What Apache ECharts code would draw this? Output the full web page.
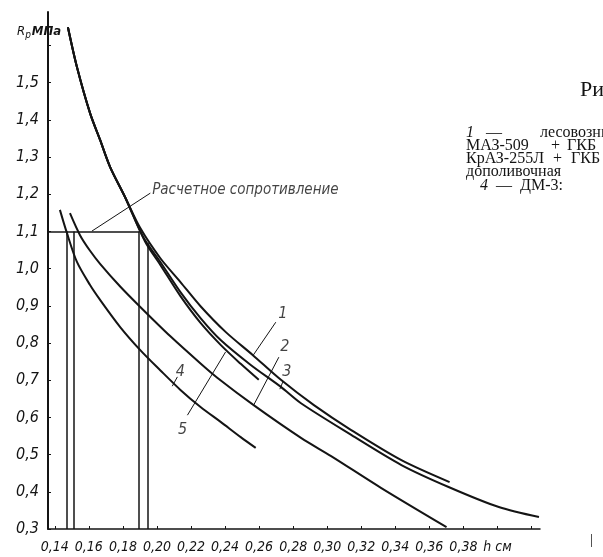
<!DOCTYPE html>
<html>
<head>
<meta charset="utf-8">
<script src="https://cdn.jsdelivr.net/npm/echarts@6/dist/echarts.min.js"></script>
<style>
html, body { margin: 0; padding: 0; background: #fff; }
#chart { width: 603px; height: 557px; }
</style>
</head>
<body>
<div id="chart"></div>
<script>
// деления осей
var xTicks = [0.14, 0.16, 0.18, 0.20, 0.22, 0.24, 0.26, 0.28, 0.30, 0.32, 0.34, 0.36, 0.38, 0.40];
var yTicks = [0.3, 0.4, 0.5, 0.6, 0.7, 0.8, 0.9, 1.0, 1.1, 1.2, 1.3, 1.4, 1.5];
var yMinor = [1.6];

// общий верх кривых 1, 3, 5
var topPart = [[0.1477, 1.649], [0.1530, 1.542], [0.1607, 1.418], [0.1666, 1.346], [0.1725, 1.273], [0.1813, 1.192]];

var curve1 = [[0.1902, 1.109], [0.2020, 1.028], [0.2138, 0.964], [0.2256, 0.899], [0.2403, 0.830], [0.2562, 0.768],
    [0.2728, 0.701], [0.2922, 0.633], [0.3141, 0.566], [0.3436, 0.485], [0.3719, 0.426]];
var curve2 = [[0.1489, 1.149], [0.1548, 1.090], [0.1607, 1.048], [0.1666, 1.013], [0.1784, 0.952], [0.1902, 0.897],
    [0.2079, 0.818], [0.2256, 0.745], [0.2356, 0.706], [0.2568, 0.633], [0.2846, 0.545], [0.3023, 0.496],
    [0.3318, 0.410], [0.3701, 0.305]];
var curve3 = [[0.1919, 1.085], [0.2020, 1.018], [0.2138, 0.937], [0.2256, 0.867], [0.2374, 0.808], [0.2551, 0.741],
    [0.2728, 0.682], [0.2846, 0.638], [0.3141, 0.553], [0.3436, 0.472], [0.3713, 0.413], [0.4008, 0.359], [0.4244, 0.332]];
var curve4 = [[0.1430, 1.158], [0.1471, 1.096], [0.1530, 1.018], [0.1607, 0.956], [0.1666, 0.916], [0.1784, 0.843],
    [0.1902, 0.781], [0.2019, 0.727], [0.2138, 0.674], [0.2256, 0.628], [0.2374, 0.588], [0.2492, 0.547], [0.2580, 0.518]];
var curve5 = [[0.1931, 1.072], [0.2020, 1.010], [0.2138, 0.926], [0.2256, 0.854], [0.2374, 0.795], [0.2492, 0.744], [0.2598, 0.701]];

// расчетное сопротивление и проекции
var designR = 1.1;
var guideX = [0.1471, 0.1512, 0.1896, 0.1943];
var guideTop = [1.1, 1.1, 1.1, 1.069];

// номера кривых и выноски
var curveNames = ['1', '2', '3', '4', '5'];
var namePos = [[0.2740, 0.878], [0.2751, 0.789], [0.2763, 0.722], [0.2138, 0.722], [0.2150, 0.566]];
var leaders = [
    [[0.2698, 0.856], [0.2562, 0.765]],
    [[0.2716, 0.762], [0.2568, 0.633]],
    [[0.2739, 0.695], [0.2722, 0.676]],
    [[0.2120, 0.709], [0.2090, 0.684]],
    [[0.2179, 0.606], [0.2403, 0.776]],
    [[0.1618, 1.101], [0.1961, 1.203]]
];
var designLabel = 'Расчетное сопротивление';
var designLabelPos = [0.1972, 1.211];

// подпись к рисунку справа (обрезана краем)
var captionRows = [
    [[466, '1'], [486, '—'], [540, 'лесовозный']],
    [[466, 'МАЗ-509'], [551, '+'], [567, 'ГКБ']],
    [[466, 'КрАЗ-255Л'], [553, '+'], [571, 'ГКБ']],
    [[466, 'дополивочная']],
    [[480, '4'], [496, '—'], [520, 'ДМ-3:']]
];
var captionY = [133, 146, 159, 172, 186];

var xMin = 0.136, xMax = 0.425, yMin = 0.3, yMax = 1.69;
var ink = '#141414';
var handFont = '"DejaVu Sans Condensed", "Liberation Sans Narrow", sans-serif';
var bookFont = '"Liberation Serif", "DejaVu Serif", serif';

function curveSeries(name, pts) {
    return {
        name: name,
        type: 'line',
        data: pts,
        smooth: 0.3,
        symbol: 'none',
        lineStyle: { color: ink, width: 2 },
        z: 3
    };
}

var guideLines = [{ coords: [[xMin, designR], [guideX[2], designR]] }];
guideX.forEach(function(x, i) {
    guideLines.push({ coords: [[x, guideTop[i]], [x, yMin]] });
});

var captionGraphics = [];
captionRows.forEach(function(row, r) {
    row.forEach(function(cell) {
        var italic = /^\d$/.test(cell[1]);
        captionGraphics.push({
            type: 'text', x: cell[0], y: captionY[r],
            style: {
                text: cell[1],
                font: (italic ? 'italic ' : '') + '16px ' + bookFont,
                fill: ink,
                verticalAlign: 'middle'
            }
        });
    });
});

var chart = echarts.init(document.getElementById('chart'));
chart.setOption({
    animation: false,
    backgroundColor: '#fff',
    grid: { left: 48, right: 63, top: 12, bottom: 28 },
    xAxis: {
        type: 'value', min: xMin, max: xMax,
        axisLine: { lineStyle: { color: ink, width: 1.5 } },
        axisTick: { customValues: xTicks.concat([0.42]), inside: true, length: 3, lineStyle: { color: ink } },
        splitLine: { show: false },
        axisLabel: {
            customValues: xTicks,
            margin: 11,
            color: ink,
            fontSize: 14,
            fontStyle: 'italic',
            fontFamily: handFont,
            formatter: function(v) {
                if (Math.abs(v - 0.40) < 1e-6) return 'h см';
                return v.toFixed(2).replace('.', ',');
            }
        }
    },
    yAxis: {
        type: 'value', min: yMin, max: yMax,
        axisLine: { lineStyle: { color: ink, width: 2 } },
        axisTick: { customValues: yTicks.concat(yMinor), inside: true, length: 3, lineStyle: { color: ink } },
        splitLine: { show: false },
        axisLabel: {
            customValues: yTicks,
            margin: 9,
            color: ink,
            fontSize: 16,
            fontStyle: 'italic',
            fontFamily: handFont,
            formatter: function(v) { return v.toFixed(1).replace('.', ','); }
        }
    },
    series: [
        curveSeries('1', topPart.concat(curve1)),
        curveSeries('2', curve2),
        curveSeries('3', topPart.concat(curve3)),
        curveSeries('4', curve4),
        curveSeries('5', topPart.concat(curve5)),
        {
            type: 'lines',
            coordinateSystem: 'cartesian2d',
            data: guideLines,
            lineStyle: { color: ink, width: 1.5, opacity: 1 },
            z: 2
        },
        {
            type: 'lines',
            coordinateSystem: 'cartesian2d',
            data: leaders.map(function(c) { return { coords: c }; }),
            lineStyle: { color: ink, width: 1, opacity: 1 },
            z: 2
        },
        {
            type: 'scatter',
            symbolSize: 0,
            data: namePos.map(function(p, i) { return { value: p, name: curveNames[i] }; }).concat([
                { value: designLabelPos, name: designLabel, label: { position: 'right', distance: 0, fontSize: 15 } }
            ]),
            label: {
                show: true,
                position: 'inside',
                formatter: '{b}',
                color: ink,
                fontSize: 16,
                fontStyle: 'italic',
                fontFamily: handFont
            },
            z: 4
        }
    ],
    graphic: [
        {
            type: 'text', left: 17, top: 25,
            style: {
                text: '{r|R}{s|p}{m|МПа}',
                rich: {
                    r: { fontSize: 13, fontStyle: 'italic', fontFamily: handFont, fill: ink },
                    s: { fontSize: 10, fontStyle: 'italic', fontFamily: handFont, fill: ink, padding: [8, 1, 0, 0] },
                    m: { fontSize: 13, fontStyle: 'italic', fontWeight: 'bold', fontFamily: handFont, fill: ink }
                }
            }
        },
        { type: 'text', x: 580, y: 90, style: { text: 'Рис. 5', font: '22px ' + bookFont, fill: ink, verticalAlign: 'middle' } },
        { type: 'text', x: 590, y: 533, style: { text: '|', font: '15px ' + bookFont, fill: ink } }
    ].concat(captionGraphics)
});
</script>
</body>
</html>
